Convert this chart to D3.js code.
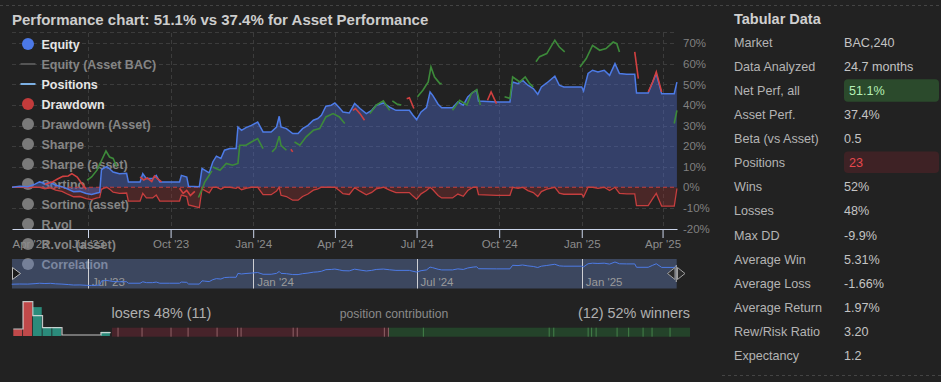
<!DOCTYPE html>
<html><head><meta charset="utf-8">
<script src="https://cdn.jsdelivr.net/npm/d3@7"></script>
<style>
html,body{margin:0;padding:0;background:#222;}
svg{display:block;font-family:"Liberation Sans",Arial,sans-serif;}
</style></head><body>
<svg id="c" width="941" height="382"></svg>
<script>
// ---------------- DATA ----------------
const dates = ["2023-04-07","2023-04-16","2023-04-25","2023-05-03","2023-05-08","2023-05-14","2023-05-20","2023-05-26","2023-06-02","2023-06-09","2023-06-15","2023-06-22","2023-06-29","2023-07-05","2023-07-11","2023-07-14","2023-07-16","2023-07-19","2023-07-22","2023-07-25","2023-07-29","2023-08-05","2023-08-13","2023-08-15","2023-08-28","2023-08-31","2023-09-04","2023-09-11","2023-09-15","2023-09-19","2023-09-30","2023-10-11","2023-10-13","2023-10-19","2023-10-21","2023-11-02","2023-11-05","2023-11-08","2023-11-13","2023-11-17","2023-11-21","2023-11-26","2023-11-30","2023-12-06","2023-12-13","2023-12-15","2023-12-19","2023-12-24","2023-12-30","2024-01-06","2024-01-12","2024-01-21","2024-01-27","2024-01-30","2024-02-01","2024-02-07","2024-02-14","2024-02-20","2024-02-25","2024-03-02","2024-03-08","2024-03-13","2024-03-17","2024-03-22","2024-03-28","2024-04-01","2024-04-06","2024-04-10","2024-04-17","2024-04-23","2024-04-29","2024-05-06","2024-05-12","2024-05-17","2024-05-25","2024-06-01","2024-06-08","2024-06-23","2024-06-27","2024-07-01","2024-07-06","2024-07-12","2024-07-16","2024-07-19","2024-07-25","2024-07-29","2024-08-10","2024-08-16","2024-08-22","2024-08-27","2024-09-02","2024-09-06","2024-09-08","2024-09-28","2024-10-13","2024-10-16","2024-10-22","2024-10-27","2024-11-02","2024-11-08","2024-11-13","2024-11-17","2024-11-23","2024-12-02","2024-12-07","2024-12-12","2025-01-01","2025-01-03","2025-01-08","2025-01-13","2025-01-19","2025-01-26","2025-02-01","2025-02-07","2025-02-12","2025-02-20","2025-03-01","2025-03-03","2025-03-16","2025-03-21","2025-03-25","2025-03-31","2025-04-14","2025-04-17"];
const equity = [0,0.5,0.3,1.5,2.6,1.8,2.4,1.0,0.3,-1.0,-2.2,-2.0,-3.0,-3.5,-2.8,-2.5,8.5,9.5,10,9.0,7.4,6.6,6.8,2.6,2.6,6.6,4.2,4.2,5.8,2.6,2.6,2.6,5.8,5.0,0.5,0.3,9.1,8.3,7.0,12.3,15.1,14.0,18.0,18.8,18.8,29.3,27.7,29.0,30.1,31.7,26.9,26.9,29.3,34.5,29.3,28.5,26.1,26.1,28.5,30.1,32.6,33.4,35.0,39.4,39.9,41.0,38.7,36.6,36.1,40.7,38.3,35.8,37.4,39.9,41.0,39.0,37.4,37.4,35.0,32.9,36.6,38.7,46.3,44.7,40.4,38.7,38.7,41.5,39.9,43.9,46.3,47.2,41.9,41.5,41.5,51.2,50.4,52.0,49.6,48.0,45.2,48.8,50.7,54.0,49.6,48.8,48.8,46.8,55.3,56.9,56.1,56.9,54.4,60.1,55.3,54.9,54.9,45.8,45.8,51.2,55.3,45.5,45.5,51.1];
const drawdown = [0,0,-0.2,0,0,-0.8,-0.3,-1.4,-2.0,-3.5,-4.6,-4.5,-5.5,-6.0,-5.2,-5.0,-1.0,-0.4,0,-0.9,-2.4,-3.0,-2.8,-6.7,-6.7,-3.0,-5.2,-5.2,-3.8,-6.7,-6.7,-6.7,-3.8,-4.5,-8.6,-9.9,-0.8,-1.5,-2.7,0,0,-1.0,0,0,-0.5,0,-1.2,-0.5,0,0,-3.6,-3.6,-1.8,0,-3.9,-4.5,-6.3,-6.3,-4.5,-3.3,-1.4,-0.8,0,0,0,0,-1.6,-3.1,-3.5,-0.2,-1.9,-3.7,-2.5,-0.8,0,-1.4,-2.6,-2.6,-4.3,-5.8,-3.2,-1.6,0,-1.1,-4.0,-5.2,-5.2,-3.3,-4.4,-1.6,0,0,-3.6,-3.9,-3.9,0,-0.5,0,-1.6,-2.6,-4.5,-2.1,-0.9,0,-2.9,-3.4,-3.4,-4.7,0,0,-0.5,0,-1.6,0,-3.0,-3.2,-3.2,-8.9,-8.9,-5.5,-3.0,-9.2,-9.2,-0.6];

const positionPaths = [
 [["2023-05-14",1.5],["2023-05-22",2.5],["2023-05-28",4],["2023-06-03",5.3],["2023-06-09",5.5],["2023-06-13",6.6],["2023-06-19",5.0],["2023-06-24",1.8],["2023-06-29",-1.0]],
 [["2023-06-30",3.4],["2023-07-05",5.0],["2023-07-11",8.3],["2023-07-16",13],["2023-07-21",17.6],["2023-07-25",14.7],["2023-07-29",14.0],["2023-08-02",10]],
 [["2023-08-28",5.0],["2023-09-01",3.5],["2023-09-05",4.5],["2023-09-10",2.8],["2023-09-13",5.5],["2023-09-17",4.0],["2023-09-21",2.6]],
 [["2023-10-11",-0.5],["2023-10-15",-3.0],["2023-10-19",-1.5],["2023-10-23",-4.0],["2023-10-28",-2.0]],
 [["2023-11-01",-5],["2023-11-05",-1],["2023-11-08",2.5],["2023-11-11",4.5],["2023-11-16",8]],
 [["2023-11-17",9.9],["2023-11-25",8.3],["2023-12-02",11.6],["2023-12-09",10.7],["2023-12-15",11.6],["2023-12-17",20.4],["2023-12-24",20.4],["2023-12-30",22],["2024-01-06",23.7],["2024-01-12",18.8]],
 [["2024-01-22",17.2],["2024-01-26",19],["2024-01-30",24.8],["2024-02-01",20.4],["2024-02-07",18]],
 [["2024-02-12",18.5],["2024-02-14",17.2]],
 [["2024-02-16",22],["2024-02-22",20.4],["2024-02-29",24.5],["2024-03-08",27.7],["2024-03-15",28.5],["2024-03-22",34.2],["2024-03-30",35.8],["2024-04-06",34.2],["2024-04-12",31]],
 [["2024-04-21",37.4],["2024-04-24",38.3],["2024-04-29",35.8],["2024-05-04",32.6]],
 [["2024-05-10",35.8],["2024-05-17",39.9],["2024-05-25",42],["2024-06-01",37.4]],
 [["2024-06-04",42],["2024-06-09",40.5],["2024-06-14",40]],
 [["2024-06-20",43],["2024-06-23",43.5],["2024-06-28",38.3]],
 [["2024-07-02",44],["2024-07-08",47.2],["2024-07-14",51.2],["2024-07-17",58.5],["2024-07-21",53.6],["2024-07-27",50.4],["2024-07-29",50.4]],
 [["2024-08-10",37.4],["2024-08-18",42.3],["2024-08-26",40],["2024-08-31",45.5],["2024-09-06",47.5],["2024-09-10",39.9]],
 [["2024-09-18",42.3],["2024-09-22",46.3],["2024-09-28",40.7]],
 [["2024-10-07",44],["2024-10-13",43.2],["2024-10-16",53.6],["2024-10-24",51.2],["2024-10-30",53.6],["2024-11-04",50.4],["2024-11-08",48.8]],
 [["2024-11-11",61],["2024-11-15",63.5],["2024-11-23",65],["2024-12-02",71.5],["2024-12-07",68.2],["2024-12-13",65.8]],
 [["2024-12-30",58.5],["2025-01-06",62.6],["2025-01-13",69],["2025-01-21",66.6],["2025-01-28",67.4],["2025-02-05",70.6],["2025-02-09",69.8],["2025-02-12",65.8]],
 [["2025-03-01",65.8],["2025-03-05",52.8]],
 [["2025-03-16",46.3],["2025-03-21",51.2],["2025-03-25",56.1],["2025-03-31",46.3]],
 [["2025-04-14",31],["2025-04-17",37.4]]
];
const positionWins = [false,true,false,false,true,true,true,false,true,false,true,true,false,true,true,false,true,true,true,false,false,true];

const xTickDates = ["2023-04-01","2023-07-01","2023-10-01","2024-01-01","2024-04-01","2024-07-01","2024-10-01","2025-01-01","2025-04-01"];
const xTickLabels = ["Apr '23","Jul '23","Oct '23","Jan '24","Apr '24","Jul '24","Oct '24","Jan '25","Apr '25"];
const yTicks = [-20,-10,0,10,20,30,40,50,60,70];
const navTickDates = ["2023-07-01","2024-01-01","2024-07-01","2025-01-01"];
const navTickLabels = ["Jul '23","Jan '24","Jul '24","Jan '25"];

const legendNames = ["Equity","Equity (Asset BAC)","Positions","Drawdown","Drawdown (Asset)","Sharpe","Sharpe (asset)","Sortino","Sortino (asset)","R.vol","R.vol (asset)","Correlation"];
const legendSymbols = ["circle","line","line","circle","circle","circle","circle","circle","circle","circle","circle","circle"];
const legendActive = [true,false,true,true,false,false,false,false,false,false,false,false];
const legendColors = ["#4b78e6","#555555","#7cb0e4","#c23b3b","#7a7a7a","#7a7a7a","#7a7a7a","#7a7a7a","#7a7a7a","#7a7a7a","#7a7a7a","#7a7a7a"];

const tableLabels = ["Market","Data Analyzed","Net Perf, all","Asset Perf.","Beta (vs Asset)","Positions","Wins","Losses","Max DD","Average Win","Average Loss","Average Return","Rew/Risk Ratio","Expectancy"];
const tableValues = ["BAC,240","24.7 months","51.1%","37.4%","0.5","23","52%","48%","-9.9%","5.31%","-1.66%","1.97%","3.20","1.2"];

const loserContrib = [-0.40,-1.59,-1.92,-1.13,-1.92,-1.36,-0.23,-3.45,-0.27,-5.77,-0.27];
const winnerContrib = [7.38,26.6,0.97,7.26,0.74,0.95,4.43,2.45,3.04,1.90,3.80,4.22];

const histBars = [1.6,8,6.8,2.1,2.1,0,0,0,0,1];
const histOutline = [1.65,8.07,4.8,1.95,1.95,0.24,0.24,0.24,0.24,0.78];

// ---------------- DRAW ----------------
const svg = d3.select("#c");
const parse = d3.utcParse("%Y-%m-%d");
const FONT = '"Liberation Sans",Arial,sans-serif';

svg.append("rect").attr("width",941).attr("height",382).attr("fill","#222222");

svg.append("line").attr("x1",0).attr("x2",941).attr("y1",5.5).attr("y2",5.5)
  .attr("stroke","#444").attr("stroke-dasharray","3,3");
svg.append("line").attr("x1",722).attr("x2",941).attr("y1",375.5).attr("y2",375.5)
  .attr("stroke","#444").attr("stroke-dasharray","3,3");

svg.append("text").attr("x",12).attr("y",25).text("Performance chart: 51.1% vs 37.4% for Asset Performance")
  .attr("font-weight","bold").attr("font-size","15px").attr("fill","#cdcdcd");

const x = d3.scaleUtc().domain([new Date(Date.UTC(2023,3,7,8)), new Date(Date.UTC(2025,3,17,2))]).range([12,677]);
const y = d3.scaleLinear().domain([-20,75]).range([228.4,33]);

// grid
const grid = svg.append("g");
yTicks.filter(v=>v!==0 && v!==-20).forEach(v=>{
  grid.append("line").attr("x1",12).attr("x2",677).attr("y1",Math.round(y(v))+0.5).attr("y2",Math.round(y(v))+0.5)
    .attr("stroke","#3c3c3c").attr("stroke-dasharray","4,3");
});
grid.append("line").attr("x1",12).attr("x2",677).attr("y1",32.5).attr("y2",32.5)
  .attr("stroke","#3c3c3c").attr("stroke-dasharray","4,3");
xTickDates.map(parse).filter(d=>x(d)>=12).forEach(d=>{
  grid.append("line").attr("x1",Math.round(x(d))+0.5).attr("x2",Math.round(x(d))+0.5).attr("y1",33).attr("y2",229)
    .attr("stroke","#3c3c3c").attr("stroke-dasharray","4,3");
});

// legend (above grid, under series)
const lg = svg.append("g");
legendNames.forEach((n,i)=>{
  const cy = 44 + i*20;
  if(legendSymbols[i]==="circle"){
    lg.append("circle").attr("cx",28).attr("cy",cy).attr("r",6).attr("fill",legendColors[i]);
  } else {
    lg.append("line").attr("x1",20.5).attr("x2",35.5).attr("y1",cy).attr("y2",cy)
      .attr("stroke",legendColors[i]).attr("stroke-width",2);
  }
  lg.append("text").attr("x",41.5).attr("y",cy+4.5).text(n)
    .attr("font-weight","bold").attr("font-size","12.5px")
    .attr("fill", legendActive[i] ? "#e6e6e6" : "#858585");
});

// series
const series = dates.map((d,i)=>({date:parse(d), eq:equity[i], dd:drawdown[i]}));
svg.append("clipPath").attr("id","plot").append("rect").attr("x",12).attr("y",30).attr("width",666).attr("height",200);
const plot = svg.append("g").attr("clip-path","url(#plot)");

plot.append("path").datum(series)
  .attr("d", d3.area().x(d=>x(d.date)).y0(y(0)).y1(d=>y(d.dd)))
  .attr("fill","rgba(160,50,50,0.32)");
plot.append("path").datum(series)
  .attr("d", d3.area().x(d=>x(d.date)).y0(y(0)).y1(d=>y(d.eq)))
  .attr("fill","rgba(78,108,205,0.42)");
plot.append("line").attr("x1",12).attr("x2",677).attr("y1",y(0)).attr("y2",y(0))
  .attr("stroke","#c43d3d").attr("stroke-dasharray","4,3").attr("stroke-width",1);
plot.append("path").datum(series)
  .attr("d", d3.line().x(d=>x(d.date)).y(d=>y(d.dd)))
  .attr("fill","none").attr("stroke","#c63e3e").attr("stroke-width",1.3);
plot.append("path").datum(series)
  .attr("d", d3.line().x(d=>x(d.date)).y(d=>y(d.eq)))
  .attr("fill","none").attr("stroke","#4d7be6").attr("stroke-width",1.5);

const pLine = d3.line().x(d=>x(parse(d[0]))).y(d=>y(d[1]));
positionPaths.forEach((p,i)=>{
  plot.append("path").datum(p).attr("d",pLine).attr("fill","none")
    .attr("stroke", positionWins[i] ? "#3d8a3a" : "#d24040").attr("stroke-width",1.6);
});

// x axis
const xAxis = d3.axisBottom(x).tickValues(xTickDates.map(parse))
  .tickFormat((d,i)=>xTickLabels[i]).tickSize(9).tickSizeOuter(0).tickPadding(2);
const xg = svg.append("g").attr("transform","translate(0,229)").call(xAxis);
xg.select(".domain").attr("stroke","#ccd6eb");
xg.selectAll(".tick line").attr("stroke","#ccd6eb");
xg.selectAll(".tick text").attr("fill","#8c8c8c").attr("font-size","11.5px").attr("font-family",FONT);
xg.selectAll(".tick").filter(d=>x(d)<12).each(function(d){
  const t = d3.select(this);
  t.select("line").remove();
  t.select("text").attr("text-anchor","start").attr("x",12-x(d));
});

// y axis
const yAxis = d3.axisRight(y).tickValues(yTicks).tickFormat(d=>d+"%").tickSize(0).tickPadding(3);
const yg = svg.append("g").attr("transform","translate(680,0)").call(yAxis);
yg.select(".domain").remove();
yg.selectAll(".tick text").attr("fill","#808080").attr("font-size","11.5px").attr("font-family",FONT);

// navigator
const nav = svg.append("g");
nav.append("rect").attr("x",12).attr("y",259).attr("width",664.7).attr("height",29.5)
  .attr("fill","rgba(110,140,210,0.35)");
const yNav = d3.scaleLinear().domain([d3.min(equity), d3.max(equity)]).range([285.5,262]);
navTickDates.map(parse).forEach((d,i)=>{
  nav.append("line").attr("x1",Math.round(x(d))+0.5).attr("x2",Math.round(x(d))+0.5).attr("y1",259).attr("y2",288.5)
    .attr("stroke","#e8e8e8").attr("stroke-opacity",0.85);
  nav.append("text").attr("x",x(d)+4).attr("y",285.5).text(navTickLabels[i])
    .attr("fill","#9a9a9a").attr("font-size","11.5px");
});
nav.append("path").datum(series)
  .attr("d", d3.line().x(d=>x(d.date)).y(d=>yNav(d.eq)))
  .attr("fill","none").attr("stroke","#4d7be6").attr("stroke-width",1);
nav.append("path").attr("d","M12.5,267.5 L20.5,273.5 L12.5,279.5 Z")
  .attr("fill","#1c1c1c").attr("stroke","#bbbbbb").attr("stroke-width",1);
nav.append("path").attr("d","M667.5,273.5 L675,267.5 L675,279.5 Z M677.5,267.5 L685,273.5 L677.5,279.5 Z")
  .attr("fill","#2a2a2a").attr("stroke","#a0a0a0").attr("stroke-width",1);
nav.append("line").attr("x1",676.3).attr("x2",676.3).attr("y1",265).attr("y2",282)
  .attr("stroke","#a0a0a0").attr("stroke-width",1.2);

// histogram
const hx = d3.scaleLinear().domain([0,10]).range([13.3,110.7]);
const hy = d3.scaleLinear().domain([0,8]).range([336,302]);
const hg = svg.append("g");
histBars.forEach((v,i)=>{
  if(v<=0) return;
  hg.append("rect").attr("x",hx(i)).attr("y",hy(v)).attr("width",hx(1)-hx(0)-0.8).attr("height",hy(0)-hy(v))
    .attr("fill", i<2 ? "#c0494a" : "#2b8b7b");
});
const stepPts = [];
histOutline.forEach((v,i)=>{ stepPts.push([hx(i),hy(v)]); stepPts.push([hx(i+1),hy(v)]); });
hg.append("path").attr("d", d3.line()(stepPts)).attr("fill","none")
  .attr("stroke","#e0e0e0").attr("stroke-width",1.2).attr("stroke-opacity",0.85);

// contribution bar
svg.append("text").attr("x",111.5).attr("y",318).text("losers 48% (11)")
  .attr("fill","#b0b0b0").attr("font-size","14.4px");
svg.append("text").attr("x",394).attr("y",318).attr("text-anchor","middle").text("position contribution")
  .attr("fill","#8a8a8a").attr("font-size","12.2px");
svg.append("text").attr("x",690).attr("y",318).attr("text-anchor","end").text("(12) 52% winners")
  .attr("fill","#b0b0b0").attr("font-size","14.4px");

const nL = loserContrib.length, nW = winnerContrib.length;
const barX = d3.scaleLinear().domain([0, nL+nW]).range([112,690]);
const loseEnd = barX(nL);
const lScale = d3.scaleLinear().domain([0, d3.sum(loserContrib, Math.abs)]).range([112, loseEnd]);
const wScale = d3.scaleLinear().domain([0, d3.sum(winnerContrib)]).range([loseEnd, 690]);
const cb = svg.append("g");
cb.append("rect").attr("x",112).attr("y",327.7).attr("width",loseEnd-112).attr("height",9).attr("fill","#47232a");
cb.append("rect").attr("x",loseEnd).attr("y",327.7).attr("width",690-loseEnd).attr("height",9).attr("fill","#24432a");
let acc = 0;
loserContrib.forEach((c,i)=>{
  if(i>0){
    const xx = lScale(acc);
    cb.append("line").attr("x1",xx).attr("x2",xx).attr("y1",327.7).attr("y2",336.7).attr("stroke","#9a6a6e").attr("stroke-width",0.9);
  }
  acc += Math.abs(c);
});
cb.append("line").attr("x1",loseEnd).attr("x2",loseEnd).attr("y1",327.7).attr("y2",336.7).attr("stroke","#9a6a6e").attr("stroke-width",0.9);
acc = 0;
winnerContrib.forEach((c,i)=>{
  if(i>0){
    const xx = wScale(acc);
    cb.append("line").attr("x1",xx).attr("x2",xx).attr("y1",327.7).attr("y2",336.7).attr("stroke","#4a8a4e").attr("stroke-width",0.9);
  }
  acc += c;
});

// table
const tb = svg.append("g");
tb.append("text").attr("x",734).attr("y",24).text("Tabular Data")
  .attr("font-weight","bold").attr("font-size","14.5px").attr("fill","#d0d0d0");
const rowY = d3.scaleLinear().domain([0,1]).range([42.3,66.4]);
tableLabels.forEach((l,i)=>{
  const cy = rowY(i);
  tb.append("text").attr("x",734).attr("y",cy+4.4).text(l).attr("font-size","12.6px").attr("fill","#b4b4b4");
  let tx = 844, col = "#c4c4c4";
  if(i===2){
    tb.append("rect").attr("x",844).attr("y",cy-11.3).attr("width",95).attr("height",22.5).attr("rx",4).attr("fill","#2b4a2c");
    tx = 849; col = "#b6f0b4";
  }
  if(i===5){
    tb.append("rect").attr("x",844).attr("y",cy-11.3).attr("width",95).attr("height",21.5).attr("rx",4).attr("fill","#3e2225");
    tx = 849; col = "#e6484d";
  }
  tb.append("text").attr("x",tx).attr("y",cy+4.4).text(tableValues[i]).attr("font-size","12.6px").attr("fill",col);
});
</script>
</body></html>
